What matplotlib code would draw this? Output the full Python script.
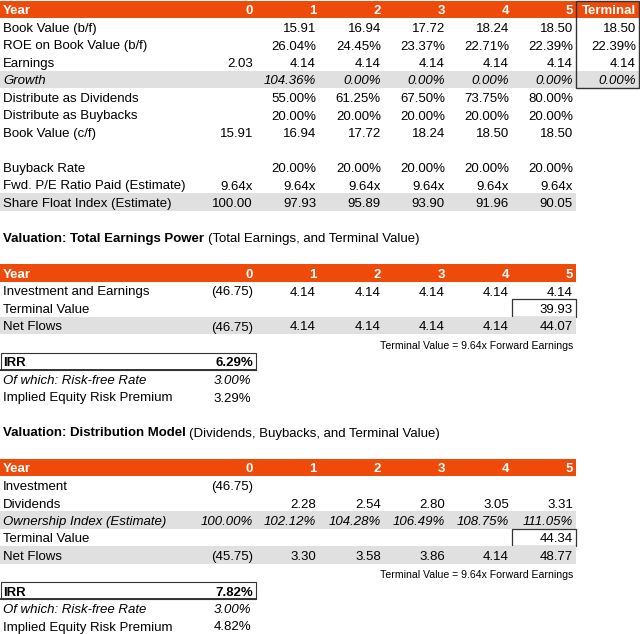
import matplotlib
matplotlib.use('Agg')
import matplotlib.pyplot as plt
from matplotlib.patches import Rectangle

plt.rcParams['font.family'] = ['Liberation Sans', 'DejaVu Sans']

# ---------------- data ----------------
years = ['0', '1', '2', '3', '4', '5']
terminal_label = 'Terminal'

book_bf = [None, 15.91, 16.94, 17.72, 18.24, 18.50]
book_bf_term = 18.50
roe = [None, 26.04, 24.45, 23.37, 22.71, 22.39]
roe_term = 22.39
earnings = [2.03, 4.14, 4.14, 4.14, 4.14, 4.14]
earnings_term = 4.14
growth = [None, 104.36, 0.00, 0.00, 0.00, 0.00]
growth_term = 0.00
div_pct = [None, 55.00, 61.25, 67.50, 73.75, 80.00]
buy_pct = [None, 20.00, 20.00, 20.00, 20.00, 20.00]
book_cf = [15.91, 16.94, 17.72, 18.24, 18.50, 18.50]
buyback_rate = [None, 20.00, 20.00, 20.00, 20.00, 20.00]
pe_paid = [9.64, 9.64, 9.64, 9.64, 9.64, 9.64]
float_idx = [100.00, 97.93, 95.89, 93.90, 91.96, 90.05]

# Total earnings power
inv_earn = [-46.75, 4.14, 4.14, 4.14, 4.14, 4.14]
tv2 = [None, None, None, None, None, 39.93]
net2 = [-46.75, 4.14, 4.14, 4.14, 4.14, 44.07]
irr2, rf2, erp2 = 6.29, 3.00, 3.29

# Distribution model
investment3 = [-46.75, None, None, None, None, None]
dividends3 = [None, 2.28, 2.54, 2.80, 3.05, 3.31]
ownership3 = [100.00, 102.12, 104.28, 106.49, 108.75, 111.05]
tv3 = [None, None, None, None, None, 44.34]
net3 = [-45.75, 3.30, 3.58, 3.86, 4.14, 48.77]
irr3, rf3, erp3 = 7.82, 3.00, 4.82

pe_note = 9.64

# ---------------- layout ----------------
W, H = 640, 634
fig = plt.figure(figsize=(6.4, 6.34), dpi=100)
ax = fig.add_axes([0, 0, 1, 1])
ax.set_xlim(0, W)
ax.set_ylim(H, 0)
ax.axis('off')

ORANGE = '#EE4B0A'
GRAY = '#E0E0E0'
LINE = '#333333'
FS = 9.5
RH = 17.5
BASE = 14.0
col_right = [253, 316, 381, 445, 509, 573]
term_right = 636
label_x = 3
table_right = 575.5


def fmt_num(v):
    if v is None:
        return ''
    if v < 0:
        return f'({abs(v):.2f})'
    return f'{v:.2f}'


def fmt_pct(v):
    return '' if v is None else f'{v:.2f}%'


def fmt_x(v):
    return '' if v is None else f'{v:.2f}x'


def header(top, with_terminal=False):
    right = W if with_terminal else table_right
    ax.add_patch(Rectangle((0, top), right, RH, facecolor=ORANGE, edgecolor='none'))
    ax.text(label_x, top + BASE, 'Year', color='white', fontsize=FS,
            fontweight='bold', va='baseline', ha='left')
    for x, y in zip(col_right, years):
        ax.text(x, top + BASE, y, color='white', fontsize=FS, fontweight='bold',
                va='baseline', ha='right')
    if with_terminal:
        ax.text(term_right, top + BASE, terminal_label, color='white', fontsize=FS,
                fontweight='bold', va='baseline', ha='right')


def row(top, label, values, fmt, italic=False, fill=None, fill_right=table_right,
        term=None):
    if fill:
        ax.add_patch(Rectangle((0, top), fill_right, RH, facecolor=fill, edgecolor='none'))
    style = 'italic' if italic else 'normal'
    ax.text(label_x, top + BASE, label, fontsize=FS, style=style, va='baseline', ha='left')
    for x, v in zip(col_right, values):
        s = fmt(v)
        if s:
            ax.text(x, top + BASE, s, fontsize=FS, style=style, va='baseline', ha='right')
    if term is not None:
        ax.text(term_right, top + BASE, fmt(term), fontsize=FS, style=style,
                va='baseline', ha='right')


def title(baseline, bold_part, rest):
    t = ax.text(label_x, baseline, bold_part, fontsize=FS, fontweight='bold',
                va='baseline', ha='left')
    r = fig.canvas.get_renderer()
    bb = t.get_window_extent(r)
    x1 = ax.transData.inverted().transform((bb.x1, bb.y0))[0]
    ax.text(x1 + 3.5, baseline, rest, fontsize=FS, va='baseline', ha='left')


def irr_block(top, irr, rf, erp):
    ax.add_patch(Rectangle((0.8, top), 255.5, RH, facecolor='none', edgecolor=LINE, lw=0.8))
    ax.plot([0.8, 256.3], [top + RH, top + RH], color=LINE, lw=1.4)
    ax.text(label_x, top + BASE, 'IRR', fontsize=FS, fontweight='bold', va='baseline')
    ax.text(col_right[0], top + BASE, fmt_pct(irr), fontsize=FS, fontweight='bold',
            va='baseline', ha='right')
    ax.text(label_x, top + RH + BASE, 'Of which: Risk-free Rate', fontsize=FS,
            style='italic', va='baseline')
    ax.text(col_right[0] - 2, top + RH + BASE, fmt_pct(rf), fontsize=FS,
            style='italic', va='baseline', ha='right')
    ax.text(label_x, top + 2 * RH + BASE, 'Implied Equity Risk Premium', fontsize=FS,
            va='baseline')
    ax.text(col_right[0] - 2, top + 2 * RH + BASE, fmt_pct(erp), fontsize=FS,
            va='baseline', ha='right')


def note(baseline):
    ax.text(col_right[-1], baseline,
            f'Terminal Value = {pe_note:.2f}x Forward Earnings',
            fontsize=7.6, va='baseline', ha='right')


def box(x0, x1, y0, y1, lw=0.9):
    ax.add_patch(Rectangle((x0, y0), x1 - x0, y1 - y0, facecolor='none',
                           edgecolor=LINE, lw=lw))


# ---------------- section 1 ----------------
t0 = 0.5
header(t0, with_terminal=True)
rows1 = [
    ('Book Value (b/f)', book_bf, fmt_num, False, None, table_right, book_bf_term),
    ('ROE on Book Value (b/f)', roe, fmt_pct, False, None, table_right, roe_term),
    ('Earnings', earnings, fmt_num, False, None, table_right, earnings_term),
    ('Growth', growth, fmt_pct, True, GRAY, W, growth_term),
    ('Distribute as Dividends', div_pct, fmt_pct, False, None, table_right, None),
    ('Distribute as Buybacks', buy_pct, fmt_pct, False, None, table_right, None),
    ('Book Value (c/f)', book_cf, fmt_num, False, None, table_right, None),
    None,
    ('Buyback Rate', buyback_rate, fmt_pct, False, None, table_right, None),
    ('Fwd. P/E Ratio Paid (Estimate)', pe_paid, fmt_x, False, None, table_right, None),
    ('Share Float Index (Estimate)', float_idx, fmt_num, False, GRAY, table_right, None),
]
for i, r in enumerate(rows1):
    if r is None:
        continue
    lab, vals, f, it, fill, fr, term = r
    row(t0 + RH * (i + 1), lab, vals, f, italic=it, fill=fill, fill_right=fr, term=term)
box(table_right, W - 1, 0.5, t0 + RH * 5, lw=1.0)

# ---------------- section 2 ----------------
title(242, 'Valuation: Total Earnings Power', '(Total Earnings, and Terminal Value)')
t2 = 264
header(t2)
row(t2 + RH, 'Investment and Earnings', inv_earn, fmt_num)
row(t2 + 2 * RH, 'Terminal Value', tv2, fmt_num)
box(512, table_right, t2 + 2 * RH, t2 + 3 * RH)
row(t2 + 3 * RH, 'Net Flows', net2, fmt_num, fill=GRAY)
note(349)
irr_block(352.5, irr2, rf2, erp2)

# ---------------- section 3 ----------------
title(436.5, 'Valuation: Distribution Model', '(Dividends, Buybacks, and Terminal Value)')
t3 = 458.5
header(t3)
row(t3 + RH, 'Investment', investment3, fmt_num)
row(t3 + 2 * RH, 'Dividends', dividends3, fmt_num)
row(t3 + 3 * RH, 'Ownership Index (Estimate)', ownership3, fmt_pct, italic=True, fill=GRAY)
row(t3 + 4 * RH, 'Terminal Value', tv3, fmt_num)
box(512, table_right, t3 + 4 * RH, t3 + 5 * RH)
row(t3 + 5 * RH, 'Net Flows', net3, fmt_num, fill=GRAY)
note(577.5)
irr_block(581.5, irr3, rf3, erp3)

fig.savefig('out.png', dpi=100)
